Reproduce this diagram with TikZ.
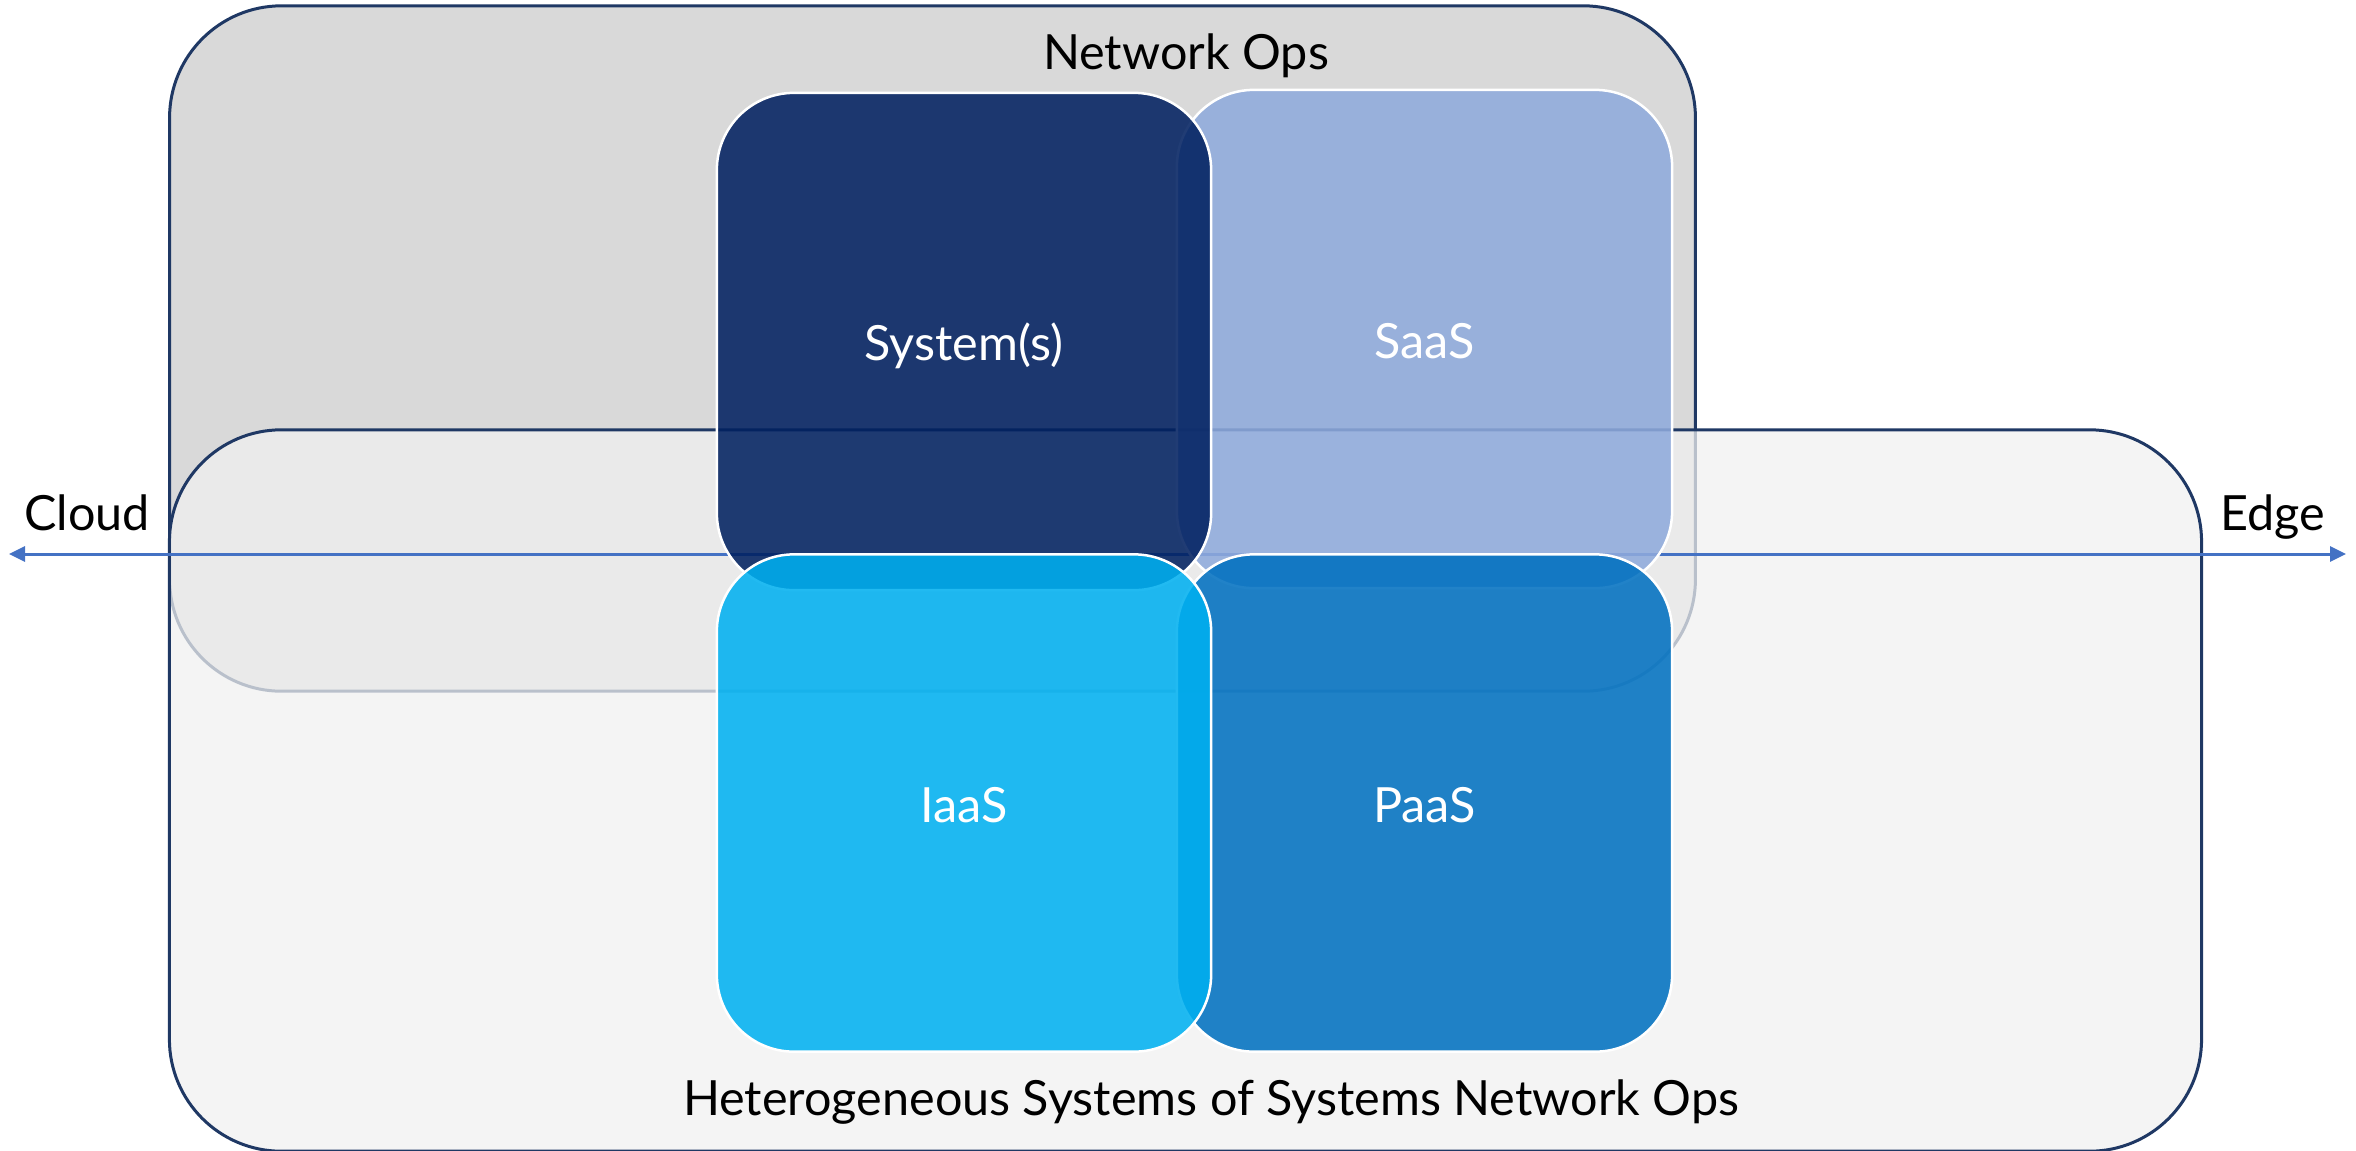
\documentclass[tikz,border=0pt]{standalone}
\usepackage{fontspec}
\setmainfont{Lato}
\usetikzlibrary{arrows.meta}
\definecolor{navyline}{HTML}{1F3864}
\definecolor{netgray}{HTML}{D9D9D9}
\definecolor{hetgray}{HTML}{F0F0F0}
\definecolor{axisblue}{HTML}{4472C4}
\definecolor{sysblue}{HTML}{002060}
\definecolor{saasblue}{HTML}{8FAADC}
\definecolor{iaasblue}{HTML}{00B0F0}
\definecolor{paasblue}{HTML}{0070C0}
\begin{document}
\begin{tikzpicture}[x=0.01cm,y=-0.01cm,
  every node/.style={font=\fontsize{13.8}{16.5}\selectfont},
  zone/.style={rectangle, draw=navyline, line width=0.03cm, rounded corners=1.12cm, inner sep=0pt},
  tile/.style={rectangle, draw=white, line width=0.025cm, rounded corners=0.77cm,
    fill opacity=0.87, text opacity=1, text=white, inner sep=0pt,
    minimum width=4.94cm, minimum height=4.97cm, text height=1.1em, text depth=0pt},
  caption/.style={anchor=base, text=black},
  axis/.style={draw=axisblue, line width=0.03cm,
    {Triangle[length=0.16cm,width=0.15cm]}-{Triangle[length=0.16cm,width=0.15cm]}}]
\useasboundingbox (0,0) rectangle (2356,1150);

% outer zones
\node[zone, fill=netgray, minimum width=15.25cm, minimum height=6.85cm] (netops) at (932.5,348.5) {};
\node[zone, fill=hetgray, fill opacity=0.74, minimum width=20.31cm, minimum height=7.21cm] (hetero) at (1185.5,790.5) {};

% cloud--edge axis
\coordinate (cloudtip) at (9,554);
\coordinate (edgetip) at (2346,554);
\draw[axis] (cloudtip) -- (edgetip);

% service tiles
\node[tile, fill=saasblue, minimum width=4.95cm, minimum height=4.98cm] (saas) at (1424.5,339) {SaaS};
\node[tile, fill=sysblue] (sys) at (964,341.5) {System(s)};
\node[tile, fill=paasblue, minimum width=4.95cm] (paas) at (1424.5,803) {PaaS};
\node[tile, fill=iaasblue] (iaas) at (964,803) {IaaS};

% captions
\node[caption] (netopslabel) at (1186,69) {Network Ops};
\node[caption] (heterolabel) at (1211,1115) {Heterogeneous Systems of Systems Network Ops};
\node[caption] (cloudlabel) at (87,530) {Cloud};
\node[caption] (edgelabel) at (2273,530) {Edge};
\end{tikzpicture}
\end{document}
